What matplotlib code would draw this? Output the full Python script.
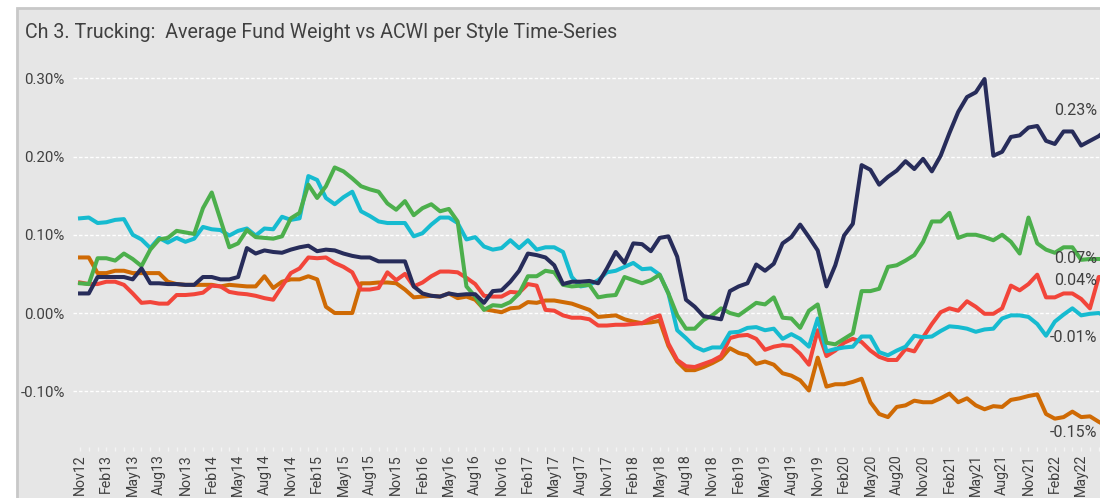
import matplotlib.pyplot as plt
from matplotlib.patches import Rectangle
from matplotlib.transforms import blended_transform_factory

# monthly, Nov12 onwards
tick_labels = ['Nov12', 'Feb13', 'May13', 'Aug13', 'Nov13', 'Feb14', 'May14', 'Aug14',
               'Nov14', 'Feb15', 'May15', 'Aug15', 'Nov15', 'Feb16', 'May16', 'Aug16',
               'Nov16', 'Feb17', 'May17', 'Aug17', 'Nov17', 'Feb18', 'May18', 'Aug18',
               'Nov18', 'Feb19', 'May19', 'Aug19', 'Nov19', 'Feb20', 'May20', 'Aug20',
               'Nov20', 'Feb21', 'May21', 'Aug21', 'Nov21', 'Feb22', 'May22']

navy = [0.025, 0.025, 0.046, 0.046, 0.046, 0.046, 0.043, 0.057, 0.038, 0.038,
        0.037, 0.037, 0.036, 0.036, 0.046, 0.046, 0.043, 0.043, 0.046, 0.083,
        0.076, 0.080, 0.078, 0.077, 0.081, 0.084, 0.086, 0.079, 0.081, 0.080,
        0.076, 0.073, 0.071, 0.071, 0.066, 0.066, 0.066, 0.066, 0.034, 0.025,
        0.022, 0.021, 0.025, 0.023, 0.024, 0.024, 0.013, 0.028, 0.029, 0.040,
        0.054, 0.076, 0.074, 0.071, 0.061, 0.037, 0.040, 0.040, 0.041, 0.038,
        0.057, 0.078, 0.064, 0.089, 0.088, 0.079, 0.096, 0.098, 0.072, 0.017,
        0.008, -0.004, -0.006, -0.008, 0.028, 0.034, 0.038, 0.062, 0.054, 0.063,
        0.089, 0.097, 0.113, 0.097, 0.080, 0.034, 0.061, 0.099, 0.114, 0.189,
        0.183, 0.164, 0.174, 0.182, 0.194, 0.184, 0.197, 0.181, 0.201, 0.230,
        0.257, 0.276, 0.282, 0.299, 0.201, 0.206, 0.225, 0.227, 0.237, 0.239,
        0.220, 0.216, 0.232, 0.232, 0.214, 0.220, 0.226, 0.235]

green = [0.038, 0.037, 0.070, 0.070, 0.067, 0.076, 0.069, 0.060, 0.081, 0.094,
         0.096, 0.105, 0.103, 0.101, 0.134, 0.154, 0.119, 0.084, 0.089, 0.106,
         0.097, 0.096, 0.095, 0.098, 0.121, 0.128, 0.164, 0.147, 0.162, 0.186,
         0.181, 0.172, 0.162, 0.158, 0.155, 0.140, 0.132, 0.143, 0.125, 0.134,
         0.139, 0.130, 0.133, 0.117, 0.034, 0.021, 0.004, 0.010, 0.009, 0.014,
         0.025, 0.047, 0.047, 0.054, 0.052, 0.036, 0.034, 0.035, 0.036, 0.020,
         0.022, 0.023, 0.046, 0.042, 0.038, 0.042, 0.049, 0.025, -0.003, -0.020,
         -0.020, -0.009, -0.003, 0.006, 0.000, -0.003, 0.005, 0.013, 0.011, 0.020,
         -0.006, -0.007, -0.019, 0.003, 0.011, -0.038, -0.040, -0.033, -0.026, 0.028,
         0.028, 0.031, 0.059, 0.061, 0.067, 0.074, 0.091, 0.117, 0.117, 0.128,
         0.096, 0.100, 0.100, 0.097, 0.093, 0.100, 0.091, 0.076, 0.122, 0.089,
         0.081, 0.077, 0.084, 0.084, 0.068, 0.069, 0.069, 0.069]

cyan = [0.121, 0.122, 0.115, 0.116, 0.119, 0.120, 0.100, 0.094, 0.083, 0.096,
        0.090, 0.096, 0.091, 0.095, 0.110, 0.107, 0.106, 0.099, 0.105, 0.108,
        0.099, 0.108, 0.107, 0.123, 0.119, 0.121, 0.175, 0.170, 0.147, 0.139,
        0.148, 0.155, 0.130, 0.124, 0.117, 0.115, 0.115, 0.115, 0.098, 0.102,
        0.113, 0.122, 0.122, 0.115, 0.094, 0.097, 0.085, 0.081, 0.083, 0.093,
        0.083, 0.093, 0.081, 0.084, 0.084, 0.078, 0.046, 0.034, 0.036, 0.042,
        0.052, 0.054, 0.059, 0.064, 0.056, 0.057, 0.049, 0.025, -0.022, -0.032,
        -0.043, -0.048, -0.044, -0.044, -0.025, -0.024, -0.019, -0.018, -0.022, -0.020,
        -0.033, -0.027, -0.033, -0.043, -0.007, -0.049, -0.046, -0.044, -0.043, -0.030,
        -0.030, -0.050, -0.054, -0.048, -0.043, -0.029, -0.031, -0.030, -0.023, -0.017,
        -0.018, -0.020, -0.024, -0.021, -0.020, -0.007, -0.003, -0.003, -0.005, -0.014,
        -0.029, -0.011, -0.002, 0.006, -0.003, -0.001, 0.000, -0.005]

red = [0.039, 0.037, 0.037, 0.040, 0.040, 0.036, 0.025, 0.013, 0.014, 0.012,
       0.012, 0.023, 0.023, 0.024, 0.026, 0.035, 0.034, 0.027, 0.025, 0.024,
       0.022, 0.019, 0.017, 0.034, 0.051, 0.057, 0.071, 0.070, 0.071, 0.064,
       0.059, 0.052, 0.030, 0.030, 0.032, 0.052, 0.042, 0.050, 0.034, 0.039,
       0.047, 0.053, 0.053, 0.052, 0.045, 0.037, 0.022, 0.021, 0.021, 0.027,
       0.026, 0.037, 0.035, 0.004, 0.003, -0.003, -0.006, -0.006, -0.008, -0.016,
       -0.016, -0.015, -0.015, -0.014, -0.013, -0.007, -0.003, -0.039, -0.060, -0.068,
       -0.069, -0.065, -0.061, -0.055, -0.032, -0.029, -0.028, -0.033, -0.047, -0.043,
       -0.041, -0.042, -0.052, -0.066, -0.022, -0.055, -0.048, -0.038, -0.033, -0.037,
       -0.048, -0.056, -0.060, -0.060, -0.046, -0.049, -0.031, -0.014, 0.001, 0.006,
       0.003, 0.015, 0.008, -0.001, -0.001, 0.006, 0.035, 0.029, 0.037, 0.049,
       0.020, 0.020, 0.025, 0.025, 0.018, 0.006, 0.046, 0.046]

orange = [0.071, 0.071, 0.051, 0.051, 0.054, 0.054, 0.051, 0.051, 0.051, 0.051,
          0.040, 0.037, 0.036, 0.036, 0.036, 0.036, 0.034, 0.036, 0.035, 0.034,
          0.034, 0.047, 0.032, 0.040, 0.043, 0.043, 0.047, 0.043, 0.008, 0.000,
          0.000, 0.000, 0.038, 0.038, 0.039, 0.039, 0.038, 0.030, 0.020, 0.021,
          0.022, 0.021, 0.025, 0.019, 0.021, 0.017, 0.005, 0.003, 0.001, 0.006,
          0.007, 0.014, 0.013, 0.016, 0.016, 0.014, 0.012, 0.008, 0.004, -0.005,
          -0.004, -0.003, -0.008, -0.011, -0.013, -0.012, -0.010, -0.042, -0.062, -0.073,
          -0.073, -0.069, -0.064, -0.058, -0.045, -0.051, -0.054, -0.065, -0.062, -0.066,
          -0.077, -0.080, -0.086, -0.099, -0.057, -0.094, -0.091, -0.091, -0.088, -0.084,
          -0.114, -0.129, -0.133, -0.120, -0.118, -0.112, -0.114, -0.114, -0.109, -0.103,
          -0.114, -0.109, -0.118, -0.123, -0.119, -0.120, -0.111, -0.109, -0.106, -0.104,
          -0.129, -0.135, -0.133, -0.126, -0.133, -0.132, -0.139, -0.145]

end_labels = ['0.23%', '0.07%', '0.04%', '-0.01%', '-0.15%']
end_label_y = [0.259, 0.070, 0.041, -0.031, -0.153]

plt.rcParams['font.family'] = ['Roboto', 'DejaVu Sans']
txt = '#404040'
bg = '#e6e6e6'

fig = plt.figure(figsize=(11, 4.98), dpi=100, facecolor='white')
fig.add_artist(Rectangle((17 / 1100, -0.1), 1.2, 1 - 8 / 498 + 0.1, transform=fig.transFigure,
                         facecolor=bg, edgecolor='#c8c8c8', linewidth=2, zorder=-10))
fig.text(25 / 1100, 1 - 32 / 498, 'Ch 3. Trucking:  Average Fund Weight vs ACWI per Style Time-Series',
         fontsize=14.1, color=txt, ha='left', va='center')

ax = fig.add_axes([73 / 1100, 51 / 498, 1067 / 1100, 392 / 498])
ax.set_facecolor('none')

x = list(range(len(navy)))
ax.plot(x, orange, color='#cf6a04', lw=2.9)
ax.plot(x, red, color='#f2453a', lw=2.9)
ax.plot(x, cyan, color='#16bbd0', lw=2.9)
ax.plot(x, green, color='#4caf4c', lw=2.9)
ax.plot(x, navy, color='#272c5a', lw=2.9)

# end-of-series labels, kept just inside the right edge of the picture
edge = blended_transform_factory(fig.transFigure, ax.transData)
for lab, yv in zip(end_labels, end_label_y):
    ax.text(1097 / 1100, yv, lab, transform=edge, fontsize=11.5, color=txt,
            ha='right', va='center')

ax.set_xlim(-0.8, 120.7)
ax.set_ylim(-0.1712, 0.3297)
ax.set_yticks([-0.1, 0.0, 0.1, 0.2, 0.3])
ax.set_yticklabels([f'{v:.2f}%' for v in [-0.1, 0.0, 0.1, 0.2, 0.3]])
ax.grid(axis='y', color='white', linestyle=(0, (2.5, 1.5)), linewidth=1)
ax.set_axisbelow(True)

ax.set_xticks(range(0, 115, 3))
ax.set_xticklabels(tick_labels, rotation=90)
ax.set_xticks(range(0, 118), minor=True)
ax.tick_params(axis='x', which='both', length=3, width=1, color='#f4f4f4', pad=2,
               labelsize=10.2, labelcolor=txt)
ax.tick_params(axis='y', length=0, pad=6, labelsize=10.8, labelcolor=txt)
for s in ax.spines.values():
    s.set_visible(False)

fig.savefig('out.png', dpi=100, facecolor='white')
